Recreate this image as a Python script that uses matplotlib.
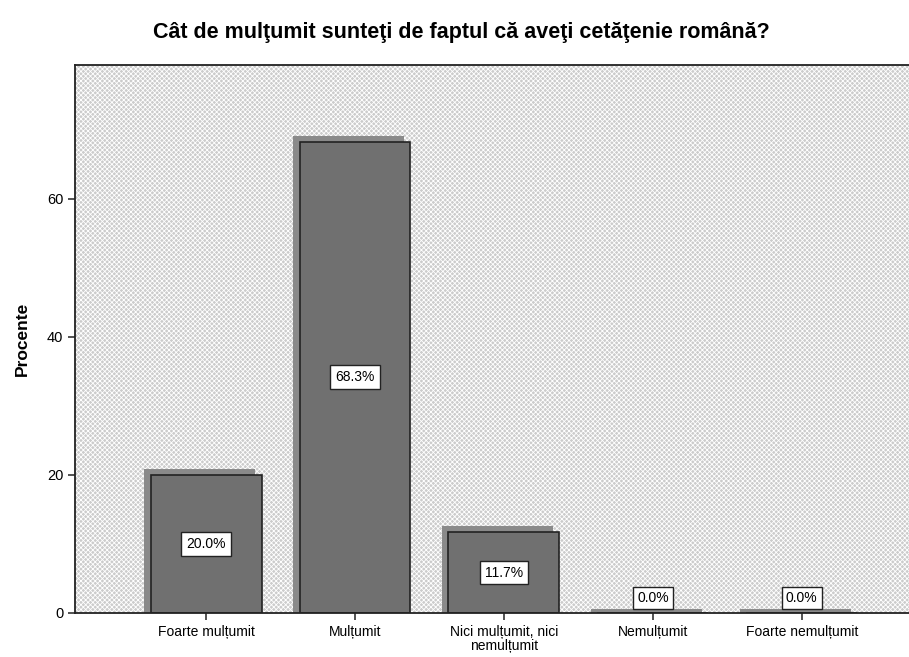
import matplotlib.pyplot as plt
import matplotlib as mpl

categorii = ['Foarte mulțumit', 'Mulțumit', 'Nici mulțumit, nici\nnemulțumit',
             'Nemulțumit', 'Foarte nemulțumit']
procente = [20.0, 68.3, 11.7, 0.0, 0.0]
etichete = ['20.0%', '68.3%', '11.7%', '0.0%', '0.0%']

plt.rcParams['font.family'] = ['Liberation Sans', 'DejaVu Sans']
mpl.rcParams['hatch.linewidth'] = 0.6
mpl.rcParams['hatch.color'] = 'white'

fig = plt.figure(figsize=(9.09, 6.57), dpi=100)
ax = fig.add_axes([0.0825, 0.067, 0.9175, 0.834])

# fundal hasurat
ax.add_patch(plt.Rectangle((0, 0), 1, 1, transform=ax.transAxes,
                           facecolor='#cccccc', hatch='xxxxxxx',
                           edgecolor='white', linewidth=0, zorder=0))

x = list(range(len(categorii)))
w = 0.745
dx = 0.045  # umbra la stanga
dy = 0.85

# umbra barelor
umbra = [p + dy if p > 0 else 0.6 for p in procente]
ax.bar([i - dx for i in x], umbra, width=w, color='#8a8a8a', zorder=1,
       linewidth=0)
ax.bar(x, procente, width=w, color='#707070', edgecolor='#222222',
       linewidth=1.2, zorder=2)

for i, p in enumerate(procente):
    if p > 0:
        ax.text(i, p / 2, etichete[i], ha='center', va='center', fontsize=10,
                zorder=4, bbox=dict(boxstyle='square,pad=0.35', fc='white',
                                    ec='#222222', lw=1))
    else:
        ax.text(i, 1.2, etichete[i], ha='center', va='bottom', fontsize=10,
                zorder=4, bbox=dict(boxstyle='square,pad=0.3', fc='white',
                                    ec='#222222', lw=1))

ax.set_xlim(-0.88, 4.72)
ax.set_ylim(0, 79.4)
ax.set_yticks([0, 20, 40, 60])
ax.set_xticks(x)
ax.set_xticklabels(categorii, fontsize=10, linespacing=1.0)
ax.tick_params(axis='y', labelsize=10.5, length=5, width=1.2, color='#333333')
ax.tick_params(axis='x', length=5, width=1.2, color='#333333')
for s in ['top', 'left', 'bottom']:
    ax.spines[s].set_linewidth(1.3)
    ax.spines[s].set_color('#222222')
ax.spines['right'].set_visible(False)

ax.set_ylabel('Procente', fontsize=12.5, fontweight='bold', labelpad=12)
fig.text(0.508, 0.95, 'Cât de mulţumit sunteţi de faptul că aveţi cetăţenie română?',
         ha='center', va='center', fontsize=15.5, fontweight='bold')

fig.savefig('out.png', dpi=100)
